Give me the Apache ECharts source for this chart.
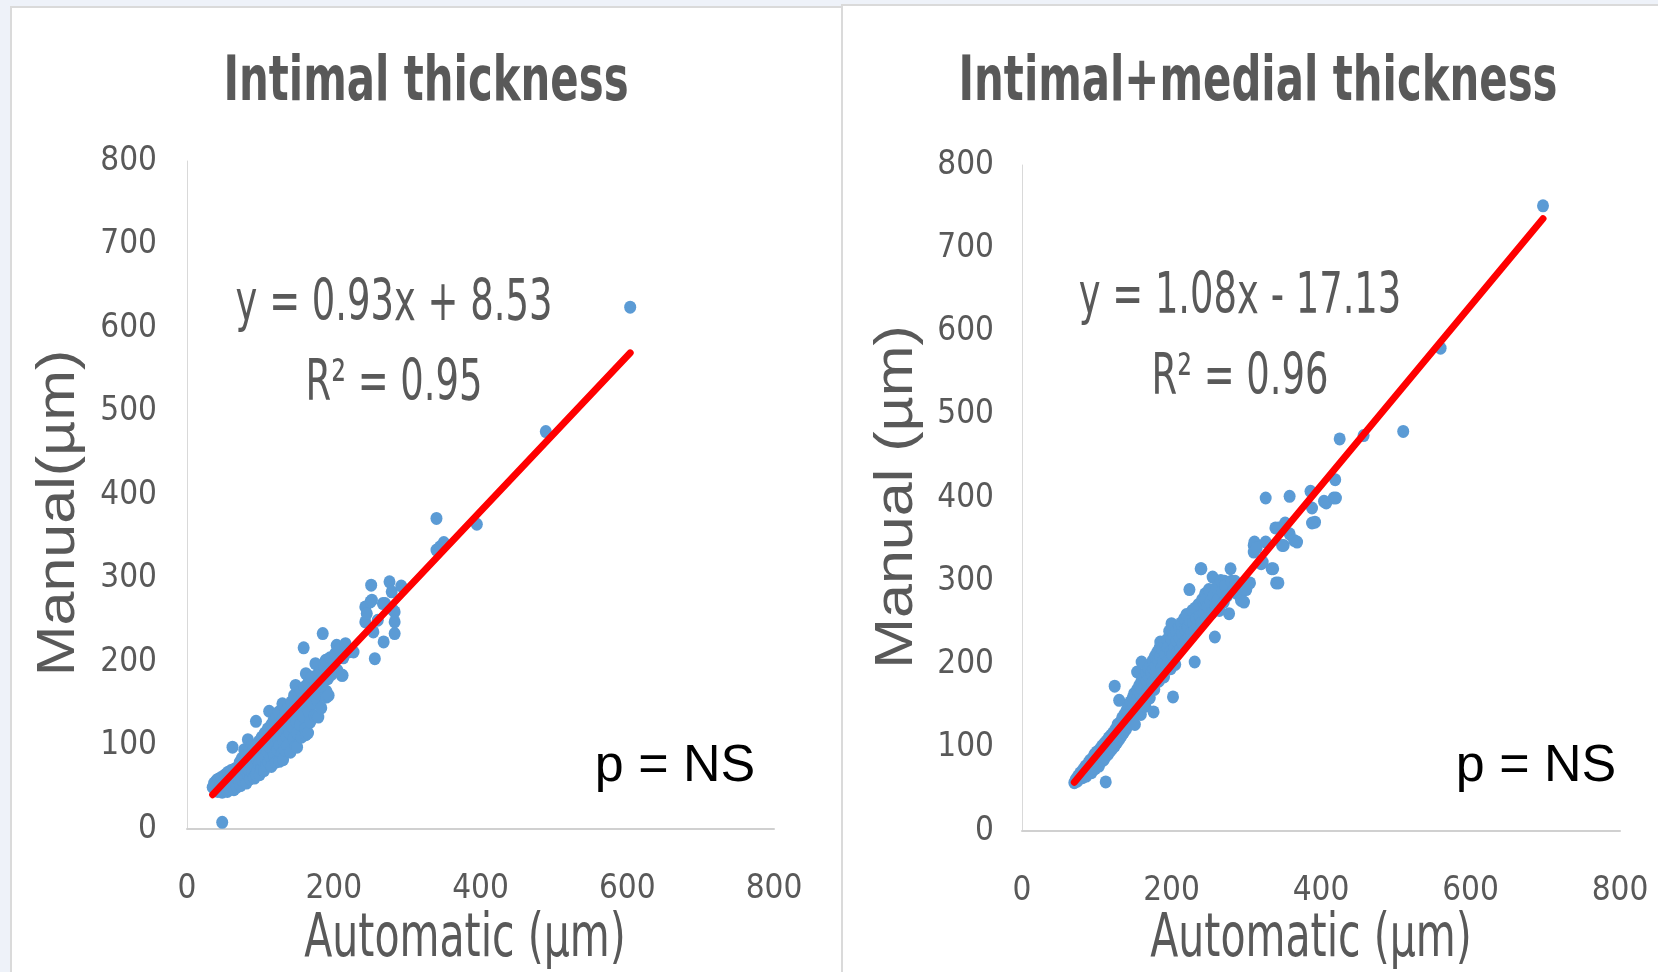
<!DOCTYPE html>
<html>
<head>
<meta charset="utf-8">
<script src="https://cdn.jsdelivr.net/npm/echarts@6/dist/echarts.min.js"></script>
<style>
html,body{margin:0;padding:0;background:#EEF2F9;}
#chart{width:1658px;height:972px;}
</style>
</head>
<body>
<div id="chart"></div>
<script>
// ---------- DATA ----------
const titles = ['Intimal thickness', 'Intimal+medial thickness'];
const xTicks = [0, 200, 400, 600, 800];
const yTicks = [0, 100, 200, 300, 400, 500, 600, 700, 800];

// Left panel: intimal thickness (Automatic, Manual) in µm
const intimalPoints = [
[35,50],[37,55],[38,47],[40,58],[40,52],[42,45],[43,60],[44,50],[45,55],[46,48],[47,62],[48,44],[48,8],[50,57],[50,52],[51,46],[52,65],[53,55],[54,50],[55,60],[55,45],[56,68],[57,53],[58,62],[58,48],[60,57],[60,70],[61,52],[62,64],[62,98],[63,58],[64,47],[65,72],[65,62],[66,55],[67,67],[68,60],[68,50],[70,75],[70,64],[71,57],[72,80],[72,68],[73,52],[74,62],[75,85],[75,72],[76,58],[77,66],[78,78],[78,95],[79,62],[80,88],[80,70],[81,55],[82,75],[83,107],[83,65],[84,82],[85,92],[85,70],[86,60],[87,78],[88,86],[88,98],[89,68],[90,95],[90,80],[91,62],[92,88],[92,61],[93,74],[94,129],[94,100],[94,65],[95,84],[96,70],[97,92],[98,105],[98,78],[99,65],[100,98],[100,88],[101,72],[102,110],[103,82],[104,95],[105,70],[106,115],[106,100],[107,86],[108,76],[109,105],[110,120],[110,92],[111,80],[112,141],[112,110],[113,98],[114,85],[115,125],[115,75],[116,105],[117,93],[118,130],[118,115],[119,88],[120,100],[121,80],[122,135],[122,118],[123,95],[124,108],[125,140],[126,81],[126,100],[127,125],[128,112],[129,90],[130,150],[130,132],[131,105],[131,83],[132,118],[133,95],[134,140],[135,125],[136,110],[137,100],[138,145],[139,130],[140,115],[141,92],[142,152],[143,138],[144,122],[145,108],[146,160],[147,145],[148,99],[148,172],[149,128],[150,115],[150,98],[152,155],[153,140],[154,125],[155,165],[156,110],[157,148],[158,135],[159,217],[160,170],[161,120],[162,186],[162,113],[163,155],[165,175],[165,115],[166,140],[167,160],[168,128],[170,182],[171,150],[172,165],[174,136],[175,198],[175,170],[177,155],[177,136],[178,185],[179,134],[180,162],[182,190],[183,145],[185,234],[185,175],[187,195],[189,202],[190,165],[190,158],[192,180],[193,160],[195,205],[197,185],[200,200],[202,210],[204,220],[205,190],[208,215],[211,184],[212,184],[213,205],[216,222],[220,212],[227,212],
[243,248],[243,266],[245,258],[250,272],[251,292],[252,274],[254,236],[256,204],[260,250],[267,270],[268,224],[270,270],[276,296],[279,284],[281,262],[283,260],[283,248],[283,234],[292,291],
[340,372],[340,334],[345,338],[350,343],[395,365],[489,476],[604,625]
];

// Right panel: intimal+medial thickness (Automatic, Manual) in µm
const intimalMedialPoints = [
[70,58],[72,62],[74,60],[75,66],[77,63],[78,70],[80,68],[81,64],[82,74],[84,70],[85,78],[86,66],[88,75],[89,82],[90,72],[91,85],[92,78],[93,70],[95,88],[96,80],[97,92],[98,75],[99,86],[100,95],[100,82],[102,90],[103,78],[104,98],[105,88],[106,84],[107,102],[108,92],[109,85],[110,105],[110,96],[111,88],[112,59],[113,108],[114,100],[115,92],[116,112],[117,104],[118,96],[119,115],[120,106],[120,98],[122,118],[123,110],[124,174],[124,102],[125,122],[126,114],[127,106],[128,128],[129,118],[130,157],[130,110],[131,130],[132,122],[133,114],[134,136],[135,126],[136,118],[137,140],[138,130],[139,122],[140,145],[140,135],[141,126],[142,150],[143,140],[144,130],[145,155],[146,145],[147,134],[148,160],[149,150],[150,140],[150,165],[151,128],[152,155],[153,146],[154,170],[154,191],[155,160],[156,150],[157,175],[158,165],[159,140],[160,180],[160,203],[161,170],[162,158],[163,185],[164,175],[165,150],[166,190],[167,180],[168,168],[169,195],[170,185],[171,160],[172,200],[173,190],[174,178],[175,205],[176,143],[176,195],[177,170],[178,210],[179,198],[180,185],[181,215],[182,205],[183,180],[184,220],[185,227],[185,210],[186,195],[187,190],[188,218],[189,205],[190,185],[191,225],[192,212],[193,198],[194,230],[195,220],[196,205],[197,240],[198,215],[199,195],[200,249],[200,230],[201,212],[202,161],[203,235],[204,220],[205,200],[206,240],[207,228],[208,215],[210,245],[211,232],[212,218],[213,250],[214,238],[215,225],[217,255],[218,242],[219,228],[220,260],[221,245],[222,245],[223,232],[224,290],[225,252],[226,238],[228,265],[229,250],[230,240],[231,203],[232,268],[233,255],[235,245],[236,272],[238,258],[239,315],[240,315],[240,250],[241,278],[243,262],[244,273],[245,285],[245,278],[246,255],[248,270],[250,290],[252,275],[254,262],[255,305],[256,282],[258,233],[259,270],[260,292],[262,278],[264,265],[266,301],[268,288],[270,275],[271,300],[272,295],[274,282],[277,261],[279,315],[280,300],[282,288],[285,300],[288,285],[290,296],[293,286],[293,277],[297,275],[300,290],[305,298],
[310,343],[310,335],[311,347],[314,340],[320,321],[322,323],[326,400],[326,347],[334,315],[336,315],[339,364],[340,298],[343,298],[343,364],[348,343],[350,343],[352,370],[358,357],[358,402],[364,349],[368,347],[386,408],[388,388],[392,371],[388,370],[404,396],[407,394],[417,400],[420,400],[419,422],[425,471],[457,475],[510,480],[560,580],[697,751]
];

// Trend lines (from the fitted equations shown on the chart), endpoints at data min/max x
const intimalTrend = [[35, 41.1], [604, 570.2]];
const intimalMedialTrend = [[70, 58.5], [697, 735.6]];

const eqTexts = [['y = 0.93x + 8.53', 'R\u00B2 = 0.95'], ['y = 1.08x - 17.13', 'R\u00B2 = 0.96']];
const yNames = ['Manual(\u00B5m)', 'Manual (\u00B5m)'];
const xName = 'Automatic (\u00B5m)';
const pText = 'p = NS';

// ---------- CHART ----------
const chart = echarts.init(document.getElementById('chart'), null, {renderer: 'canvas'});
const narrow = "'Liberation Sans Narrow', 'DejaVu Sans Condensed', 'Arial Narrow', sans-serif";
const arial = "'Liberation Sans', Arial, sans-serif";
const grey = '#595959';

function xAxisDef(gi) {
  return {
    type: 'value', gridIndex: gi, min: 0, max: 800, interval: 200,
    axisLine: {show: true, lineStyle: {color: '#D0D0D0', width: 2}},
    axisTick: {show: false}, splitLine: {show: false},
    axisLabel: {color: grey, fontSize: 33, fontFamily: narrow, margin: 44,
      formatter: v => xTicks.includes(v) ? String(v) : ''}
  };
}
function yAxisDef(gi, margin) {
  return {
    type: 'value', gridIndex: gi, min: 0, max: 800, interval: 100,
    axisLine: {show: true, lineStyle: {color: '#D9D9D9', width: 1}},
    axisTick: {show: false}, splitLine: {show: false},
    axisLabel: {color: grey, fontSize: 33, fontFamily: narrow, margin: margin,
      formatter: v => yTicks.includes(v) ? String(v) : ''}
  };
}

function txt(x, y, text, opts) {
  return Object.assign({
    type: 'text', x: x, y: y, z: 50,
    style: Object.assign({
      text: text, fill: grey, textAlign: 'center', textVerticalAlign: 'middle',
      align: 'center', verticalAlign: 'middle'
    }, opts.style || {})
  }, opts.el || {});
}

const graphics = [
  {type: 'rect', z: -10, shape: {x: 11, y: 7, width: 831, height: 970},
   style: {fill: '#FFFFFF', stroke: '#DADADA', lineWidth: 2}},
  {type: 'rect', z: -10, shape: {x: 842, y: 5, width: 820, height: 972},
   style: {fill: '#FFFFFF', stroke: '#DADADA', lineWidth: 2}},
  txt(426, 84, titles[0], {style: {fontSize: 62, fontWeight: 'bold', fontFamily: narrow}, el: {scaleX: 0.75}}),
  txt(1258, 84, titles[1], {style: {fontSize: 62, fontWeight: 'bold', fontFamily: narrow}, el: {scaleX: 0.75}}),
  txt(59, 513, yNames[0], {style: {fontSize: 61, fontFamily: arial}, el: {rotation: Math.PI / 2, scaleY: 0.88}}),
  txt(897, 497, yNames[1], {style: {fontSize: 61, fontFamily: arial}, el: {rotation: Math.PI / 2, scaleY: 0.88}}),
  txt(465, 940, xName, {style: {fontSize: 60, fontFamily: narrow}, el: {scaleX: 0.76}}),
  txt(1311, 940, xName, {style: {fontSize: 60, fontFamily: narrow}, el: {scaleX: 0.76}}),
  txt(394, 305, eqTexts[0][0], {style: {fontSize: 57, fontFamily: narrow}, el: {scaleX: 0.72}}),
  txt(394, 385, eqTexts[0][1], {style: {fontSize: 57, fontFamily: narrow}, el: {scaleX: 0.72}}),
  txt(1240, 298, eqTexts[1][0], {style: {fontSize: 57, fontFamily: narrow}, el: {scaleX: 0.72}}),
  txt(1240, 379, eqTexts[1][1], {style: {fontSize: 57, fontFamily: narrow}, el: {scaleX: 0.72}}),
  txt(675, 767, pText, {style: {fontSize: 52, fontFamily: arial, fill: '#000000'}}),
  txt(1536, 767, pText, {style: {fontSize: 52, fontFamily: arial, fill: '#000000'}})
];

const option = {
  backgroundColor: '#EEF2F9',
  animation: false,
  grid: [
    {left: 187, top: 161, width: 587, height: 668},
    {left: 1022, top: 165, width: 598, height: 666}
  ],
  xAxis: [xAxisDef(0), xAxisDef(1)],
  yAxis: [yAxisDef(0, 30), yAxisDef(1, 28)],
  series: [
    {type: 'scatter', xAxisIndex: 0, yAxisIndex: 0, data: intimalPoints,
     symbol: 'circle', symbolSize: [12, 13], itemStyle: {color: '#5B9BD5', opacity: 1}, z: 3},
    {type: 'scatter', xAxisIndex: 1, yAxisIndex: 1, data: intimalMedialPoints,
     symbol: 'circle', symbolSize: [12, 13], itemStyle: {color: '#5B9BD5', opacity: 1}, z: 3},
    {type: 'line', xAxisIndex: 0, yAxisIndex: 0, data: intimalTrend, symbol: 'none',
     lineStyle: {color: '#FF0000', width: 7, cap: 'round'}, z: 5},
    {type: 'line', xAxisIndex: 1, yAxisIndex: 1, data: intimalMedialTrend, symbol: 'none',
     lineStyle: {color: '#FF0000', width: 7, cap: 'round'}, z: 5}
  ],
  graphic: graphics
};
chart.setOption(option);
</script>
</body>
</html>
